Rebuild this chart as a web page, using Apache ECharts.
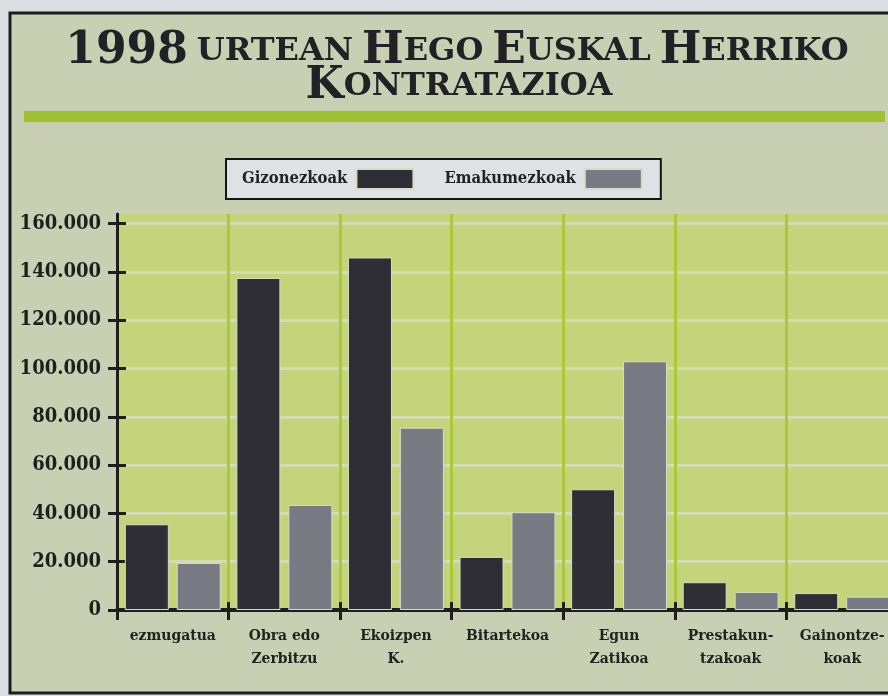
<!DOCTYPE html>
<html>
<head>
<meta charset="utf-8">
<script src="https://cdn.jsdelivr.net/npm/echarts@6/dist/echarts.min.js"></script>
<style>
html,body{margin:0;padding:0;background:#dcdde2;overflow:hidden;width:888px;height:696px;}
#c{width:900px;height:696px;}
</style>
</head>
<body>
<div id="c"></div>
<script>
// ---- data ----
const categories = ['ezmugatua', 'Obra edo\nZerbitzu', 'Ekoizpen\nK.', 'Bitartekoa', 'Egun\nZatikoa', 'Prestakun-\ntzakoak', 'Gainontze-\nkoak'];
const seriesNames = ['Gizonezkoak', 'Emakumezkoak'];
const gizonezkoak = [35500, 137500, 146000, 22000, 50000, 11500, 7000];
const emakumezkoak = [19500, 43500, 75500, 40500, 103000, 7500, 5500];
const yTicks = [0, 20000, 40000, 60000, 80000, 100000, 120000, 140000, 160000];

const serif = '"DejaVu Serif Condensed", "DejaVu Serif", serif';
const serifWide = '"DejaVu Serif", serif';
const chart = echarts.init(document.getElementById('c'), null, {renderer: 'canvas'});

function fmt(v) {
  if (v === 0) return '0';
  return String(v).replace(/\B(?=(\d{3})+(?!\d))/g, '.');
}

const yCommon = {
  type: 'value', min: 0, max: 164000, interval: 20000, position: 'left'
};
const titleRich = {
  b: {fontFamily: serifWide, fontWeight: 'bold', fontSize: 44, color: '#222226'},
  s: {fontFamily: serifWide, fontWeight: 'bold', fontSize: 32, color: '#222226'},
  g: {fontFamily: serifWide, fontWeight: 'bold', fontSize: 26, color: '#222226'}
};

chart.setOption({
  backgroundColor: 'transparent',
  animation: false,
  graphic: [
    {type: 'rect', z: -10, shape: {x: 10, y: 13, width: 900, height: 680},
     style: {fill: '#c9cfb2', stroke: '#1d1d1d', lineWidth: 3}},
    {type: 'rect', z: -9, shape: {x: 24, y: 111, width: 861, height: 11},
     style: {fill: '#9dc12f'}}
  ],
  title: [
    {
      text: '{b|1998}{g| }{s|URTEAN}{g| }{b|H}{s|EGO}{g| }{b|E}{s|USKAL}{g| }{b|H}{s|ERRIKO}',
      left: 452, top: 25, textAlign: 'center',
      textStyle: {rich: titleRich}
    },
    {
      text: '{b|K}{s|ONTRATAZIOA}',
      left: 454, top: 60, textAlign: 'center',
      textStyle: {rich: titleRich}
    }
  ],
  legend: {
    left: 226, top: 159,
    orient: 'horizontal',
    align: 'right',
    itemWidth: 57, itemHeight: 20, itemGap: 30,
    padding: [9, 18, 9, 16],
    backgroundColor: '#dfe1e4',
    borderColor: '#151515', borderWidth: 2,
    icon: 'rect',
    textStyle: {fontFamily: serif, fontWeight: 'bold', fontSize: 16.5, color: '#222', padding: [0, 4, 0, 0]},
    data: seriesNames
  },
  grid: {
    left: 117, right: 2, top: 214, bottom: 86,
    show: true, backgroundColor: '#c5d47a', borderWidth: 0
  },
  xAxis: [
    {
      type: 'category', data: categories, boundaryGap: true,
      axisLine: {lineStyle: {color: '#1e1e1e', width: 4}},
      axisTick: {show: true, length: 10, alignWithLabel: false, lineStyle: {color: '#1e1e1e', width: 3}},
      splitLine: {show: true, lineStyle: {color: '#a8c93a', width: 3}},
      axisLabel: {
        interval: 0, margin: 14, verticalAlign: 'top',
        fontFamily: serif, fontWeight: 'bold', fontSize: 15.5, lineHeight: 23, color: '#222'
      }
    },
    {
      type: 'category', data: categories, boundaryGap: true, position: 'bottom',
      axisLine: {show: false},
      axisTick: {show: true, inside: true, length: 8, alignWithLabel: false, lineStyle: {color: '#1e1e1e', width: 3}},
      splitLine: {show: false}, axisLabel: {show: false}
    }
  ],
  yAxis: [
    Object.assign({}, yCommon, {
      axisLine: {show: true, lineStyle: {color: '#1e1e1e', width: 3}},
      axisTick: {show: true, length: 9, customValues: yTicks, lineStyle: {color: '#1e1e1e', width: 3}},
      splitLine: {show: true, lineStyle: {color: '#d6dbb4', width: 3}},
      axisLabel: {
        customValues: yTicks, margin: 16, formatter: fmt,
        fontFamily: serif, fontWeight: 'bold', fontSize: 20, color: '#1e1e1e'
      }
    }),
    Object.assign({}, yCommon, {
      axisLine: {show: false},
      axisTick: {show: true, inside: true, length: 9, customValues: yTicks, lineStyle: {color: '#1e1e1e', width: 3}},
      splitLine: {show: false},
      axisLabel: {show: false}
    })
  ],
  series: [
    {
      name: seriesNames[0], type: 'bar', data: gizonezkoak,
      barWidth: 44, barGap: '18%',
      itemStyle: {color: '#2f2e36', borderColor: '#d8dcc2', borderWidth: 1}
    },
    {
      name: seriesNames[1], type: 'bar', data: emakumezkoak,
      barWidth: 44, barGap: '18%',
      itemStyle: {color: '#7a7a84', borderColor: '#d8dcc2', borderWidth: 1}
    }
  ]
});
</script>
</body>
</html>
